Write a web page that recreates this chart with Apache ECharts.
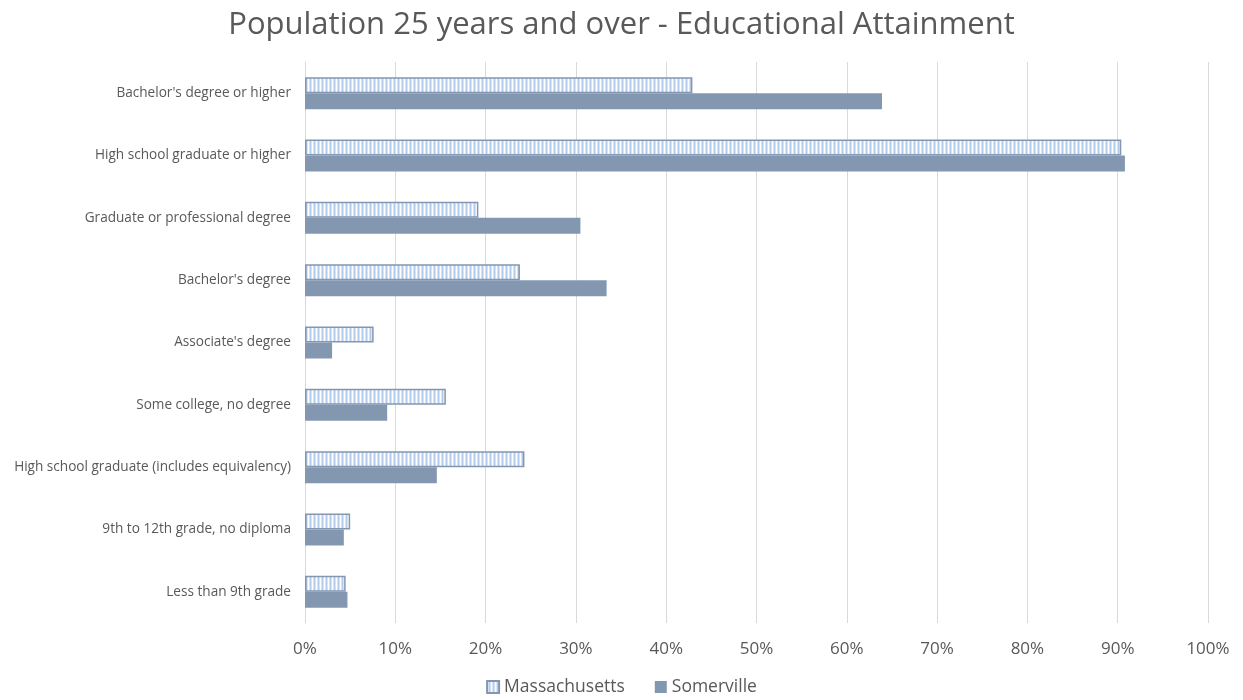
<!DOCTYPE html>
<html><head><meta charset="utf-8">
<script src="https://cdn.jsdelivr.net/npm/echarts@6/dist/echarts.min.js"></script>
<style>html,body{margin:0;padding:0;background:#fff}#c{width:1243px;height:700px}</style>
</head><body><div id="c"></div>
<script>
const categories = ["Bachelor's degree or higher","High school graduate or higher","Graduate or professional degree","Bachelor's degree","Associate's degree","Some college, no degree","High school graduate (includes equivalency)","9th to 12th grade, no diploma","Less than 9th grade"];
const massachusetts = [42.9, 90.4, 19.2, 23.8, 7.6, 15.6, 24.3, 5.0, 4.5];
const somerville = [63.9, 90.8, 30.5, 33.4, 3.0, 9.1, 14.6, 4.3, 4.7];

const pc = document.createElement('canvas');
pc.width = 4; pc.height = 4;
const g = pc.getContext('2d');
g.fillStyle = '#d6e4f5'; g.fillRect(0,0,4,4);
g.fillStyle = '#ffffff'; g.fillRect(0,0,1,4);
g.fillStyle = '#b3cbea'; g.fillRect(2,0,1,4);

const chart = echarts.init(document.getElementById('c'), null, {renderer:'canvas'});
const font = "'Open Sans', 'Liberation Sans', sans-serif";
chart.setOption({
  animation:false,
  title:{text:'Population 25 years and over - Educational Attainment',left:'center',top:5,
    textStyle:{fontFamily:font,fontSize:31,fontWeight:'normal',color:'#595959'}},
  legend:{bottom:-1,left:'center',itemWidth:12,itemHeight:12,itemGap:30,icon:'rect',
    textStyle:{fontFamily:font,fontSize:17.5,color:'#595959'},
    data:['Massachusetts','Somerville']},
  grid:{left:305,right:35,top:62,bottom:77,containLabel:false},
  xAxis:{type:'value',min:0,max:100,interval:10,
    axisLabel:{formatter:'{value}%',fontFamily:font,fontSize:17,color:'#595959',margin:18},
    splitLine:{lineStyle:{color:'#d9d9d9'}},axisLine:{show:false},axisTick:{show:false}},
  yAxis:{type:'category',data:categories,inverse:true,
    axisLabel:{fontFamily:font,fontSize:13.6,color:'#595959',margin:14},
    axisLine:{lineStyle:{color:'#d9d9d9'}},axisTick:{show:false}},
  series:[
    {name:'Massachusetts',type:'bar',data:massachusetts,barWidth:16,barGap:'0%',
      itemStyle:{color:{image:pc,repeat:'repeat'},borderColor:'#8497b0',borderWidth:1.5}},
    {name:'Somerville',type:'bar',data:somerville,barWidth:16,barGap:'0%',
      itemStyle:{color:'#8497b0'}}
  ]
});
</script></body></html>
